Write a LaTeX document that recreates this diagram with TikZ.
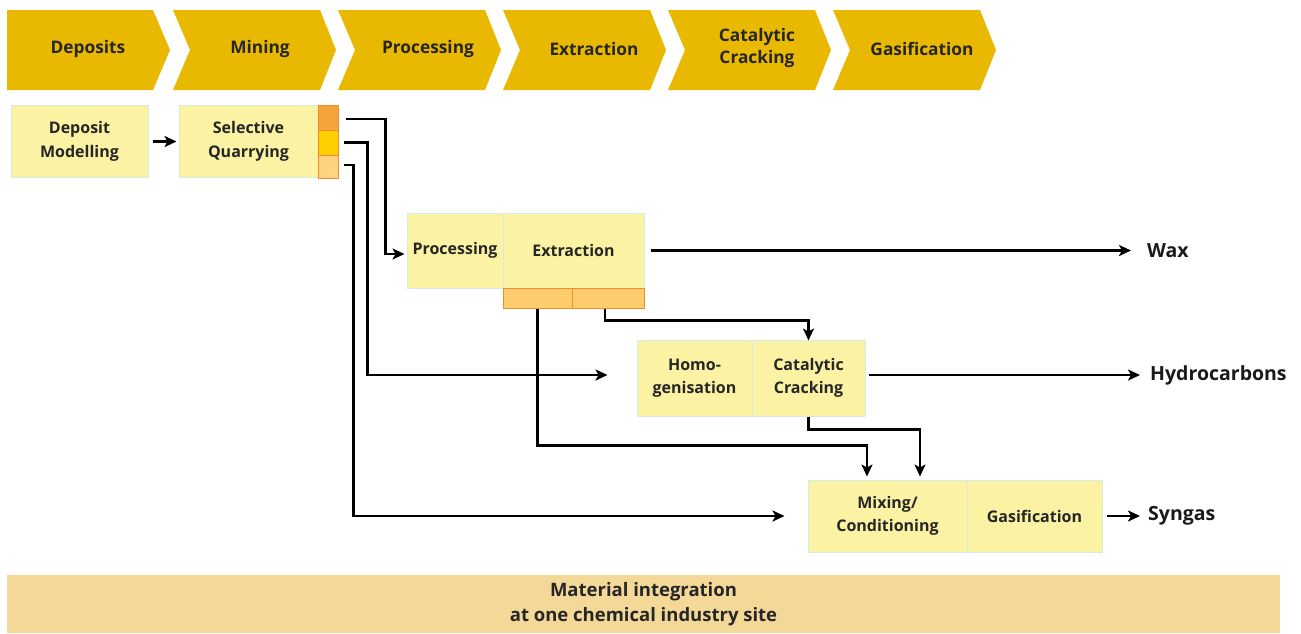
\documentclass[tikz,border=0pt]{standalone}
\usepackage{fontspec}
\setmainfont{Open Sans}
\usetikzlibrary{arrows.meta}
\definecolor{chev}{RGB}{233,184,0}
\definecolor{boxfill}{RGB}{251,242,164}
\definecolor{boxline}{RGB}{214,236,226}
\definecolor{orA}{RGB}{245,163,60}
\definecolor{orB}{RGB}{255,208,0}
\definecolor{orC}{RGB}{255,212,128}
\definecolor{orline}{RGB}{242,140,40}
\definecolor{exfill}{RGB}{255,204,110}
\definecolor{band}{RGB}{244,216,152}
\begin{document}
\begin{tikzpicture}[x=1pt,y=-1pt,
  chevtext/.style={font=\fontsize{17.3}{22}\selectfont\bfseries, align=center, text=black!85},
  boxstyle/.style={draw=boxline, line width=1pt, fill=boxfill, font=\fontsize{16}{23.5}\selectfont\bfseries, align=center, inner sep=0pt, text=black!85},
  stripe/.style={draw=orline, line width=1pt, inner sep=0pt},
  outtext/.style={font=\fontsize{19.5}{22}\selectfont\bfseries, anchor=west, inner sep=0pt, text=black!90},
  arr/.style={line width=2.7pt, -{Stealth[length=12pt,width=11pt,inset=3pt]}}]
\useasboundingbox (0,0) rectangle (1301,633);
% chevrons
\fill[chev] (7,10) -- (153,10) -- (170,50) -- (153,90) -- (7,90) -- cycle;
\foreach \i in {1,...,5}{
  \fill[chev] ({173+165*(\i-1)},10) -- ({320+165*(\i-1)},10) -- ({336+165*(\i-1)},50) -- ({320+165*(\i-1)},90) -- ({173+165*(\i-1)},90) -- ({190+165*(\i-1)},50) -- cycle;
}
\node[chevtext] (c1) at (88,49) {Deposits};
\node[chevtext] (c2) at (260,49) {Mining};
\node[chevtext] (c3) at (428,49) {Processing};
\node[chevtext] (c4) at (594,49) {Extraction};
\node[chevtext] (c5) at (757,48) {Catalytic\\Cracking};
\node[chevtext] (c6) at (922,49) {Gasification};
% boxes
\node[boxstyle, minimum width=137pt, minimum height=72pt] (dm) at (79.5,141.5) {Deposit\\Modelling};
\node[boxstyle, minimum width=139pt, minimum height=72pt] (sq) at (248.5,141.5) {Selective\\Quarrying};
\node[stripe, fill=orA, minimum width=20pt, minimum height=25pt] (sq1) at (328,117.5) {};
\node[stripe, fill=orB, minimum width=20pt, minimum height=25pt] (sq2) at (328,142.5) {};
\node[stripe, fill=orC, minimum width=20pt, minimum height=23pt] (sq3) at (328,166.5) {};
\node[boxstyle, minimum width=96pt, minimum height=75pt] (proc) at (455,250.5) {Processing};
\node[boxstyle, minimum width=141pt, minimum height=75pt] (extr) at (573.5,250.5) {Extraction};
\node[stripe, fill=exfill, minimum width=69pt, minimum height=20pt] (ex1) at (537.5,298) {};
\node[stripe, fill=exfill, minimum width=72pt, minimum height=20pt] (ex2) at (608,298) {};
\node[boxstyle, minimum width=115pt, minimum height=76pt] (homo) at (694.5,378) {Homo-\\genisation};
\node[boxstyle, minimum width=113pt, minimum height=76pt] (cat) at (808.5,378) {Catalytic\\Cracking};
\node[boxstyle, minimum width=159pt, minimum height=72pt] (mix) at (887.5,516) {Mixing/\\Conditioning};
\node[boxstyle, minimum width=135pt, minimum height=72pt] (gas) at (1034.5,516) {Gasification};
\node[fill=band, minimum width=1273pt, minimum height=58pt, inner sep=0pt, align=center, font=\fontsize{18.5}{25}\selectfont\bfseries, text=black!85] (bandn) at (643.5,604) {Material integration\\at one chemical industry site};
% outputs
\node[outtext] (wax) at (1147,250.5) {Wax};
\node[outtext] (hydro) at (1150,375) {Hydrocarbons};
\node[outtext] (syn) at (1148,516) {Syngas};
% connectors
\draw[arr] ([xshift=4pt]dm.east) -- ([xshift=-2pt]sq.west);
\draw[arr] ([xshift=7pt,yshift=-1.5pt]sq1.east) -| ([xshift=-21pt,yshift=-3.5pt]proc.west) -- ([xshift=-2pt,yshift=-3.5pt]proc.west);
\draw[arr] ([xshift=5pt]sq2.east) -| ([xshift=-269pt,yshift=3pt]homo.west) -- ([xshift=-29pt,yshift=3pt]homo.west);
\draw[arr] ([xshift=5pt,yshift=1.5pt]sq3.east) -| ([xshift=-454pt]mix.west) -- ([xshift=-23pt]mix.west);
\draw[arr] ([xshift=6pt]extr.east) -- ([xshift=-16pt]wax.west);
\draw[arr] (ex1.south) |- ([xshift=-20.5pt,yshift=34pt]mix.north) -- ([xshift=-20.5pt,yshift=3pt]mix.north);
\draw[arr] ([xshift=-3pt]ex2.south) |- ([yshift=19pt]cat.north) -- ([yshift=-1pt]cat.north);
\draw[arr] (cat.south) |- ([xshift=32.5pt,yshift=50pt]mix.north) -- ([xshift=32.5pt,yshift=3pt]mix.north);
\draw[arr] ([xshift=3pt,yshift=3pt]cat.east) -- ([xshift=-10pt]hydro.west);
\draw[arr] ([xshift=4pt]gas.east) -- ([xshift=-8pt]syn.west);
\end{tikzpicture}
\end{document}
